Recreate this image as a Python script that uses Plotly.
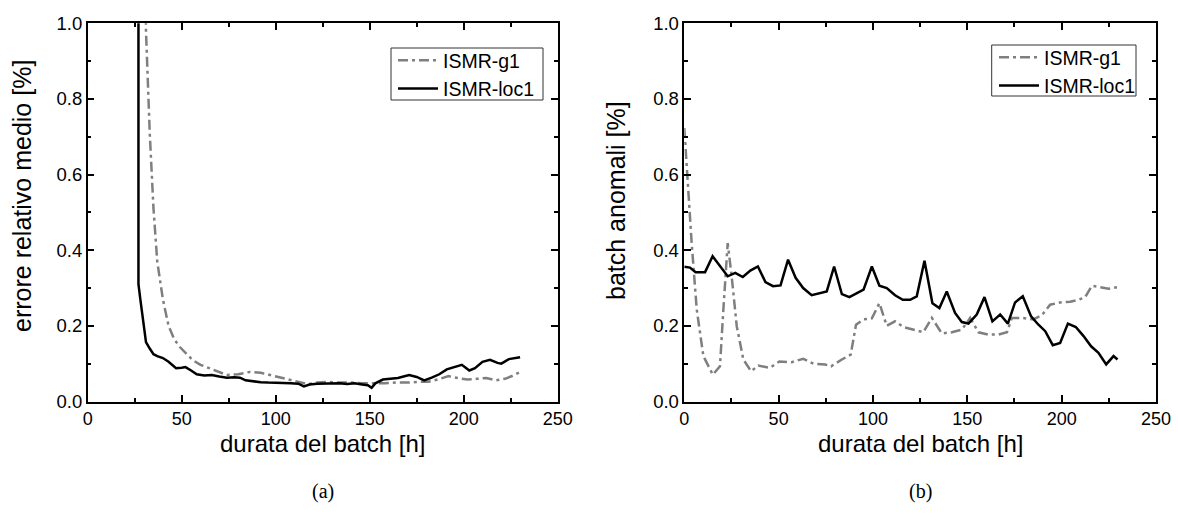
import plotly.graph_objects as go

# ---------------- data (a) : errore relativo medio ----------------
a_g1_x = [30, 31, 33, 35, 37, 40, 43, 46, 49, 53, 56, 60, 65, 70, 74, 80, 86, 92, 97,
          102, 107, 113, 117, 122, 128, 134, 140, 146, 152, 158, 164, 170, 176, 181,
          186, 192, 197, 202, 207, 212, 217, 222, 226, 230]
a_g1_y = [1.3, 0.98, 0.71, 0.51, 0.37, 0.27, 0.2, 0.165, 0.144, 0.125, 0.109, 0.097,
          0.088, 0.078, 0.07, 0.072, 0.078, 0.076, 0.07, 0.064, 0.058, 0.05, 0.046,
          0.05, 0.052, 0.05, 0.05, 0.048, 0.048, 0.048, 0.05, 0.05, 0.052, 0.052,
          0.058, 0.067, 0.062, 0.058, 0.06, 0.062, 0.056, 0.06, 0.068, 0.078]

a_loc1_x = [27, 27, 28, 30, 31, 33, 35, 37, 40, 43, 45, 47, 50, 52, 55, 58, 62, 66, 70,
            74, 78, 81, 84, 88, 92, 96, 100, 104, 108, 112, 115, 118, 122, 126, 130,
            134, 138, 142, 146, 149, 151, 153, 157, 161, 165, 168, 171, 175, 179, 183,
            187, 191, 195, 199, 203, 206, 210, 214, 218, 220, 224, 227, 230]
a_loc1_y = [1.3, 0.31, 0.27, 0.2, 0.157, 0.14, 0.125, 0.12, 0.115, 0.105, 0.097, 0.088,
            0.089, 0.091, 0.082, 0.072, 0.069, 0.07, 0.066, 0.063, 0.064, 0.063, 0.056,
            0.053, 0.051, 0.05, 0.05, 0.049, 0.048, 0.047, 0.04, 0.045, 0.047, 0.048,
            0.049, 0.048, 0.046, 0.048, 0.045, 0.043, 0.036, 0.048, 0.058, 0.06, 0.062,
            0.066, 0.07, 0.065, 0.056, 0.063, 0.072, 0.085, 0.09, 0.097, 0.082, 0.088,
            0.105, 0.11, 0.102, 0.1, 0.112, 0.115, 0.117]

# ---------------- data (b) : batch anomali ----------------
b_g1_x = [0, 1.6, 3.9, 6.6, 10.1, 15.1, 18.9, 20.7, 23, 25.1, 27.8, 31.3, 35.4, 39.2,
          45.4, 50.4, 56.9, 63.1, 68.4, 74.6, 77.8, 83.5, 88.2, 91, 94.9, 99.4, 103.4,
          107.3, 111.7, 116.1, 121.4, 126.7, 131.2, 136.5, 141.8, 147.1, 151.5, 155.9,
          161.2, 166.5, 171, 173.6, 178.9, 185, 189.5, 193.9, 199.2, 204.5, 208.9,
          212.5, 216, 220.4, 224.8, 229.3]
b_g1_y = [0.723, 0.595, 0.419, 0.243, 0.12, 0.071, 0.093, 0.243, 0.419, 0.331, 0.199,
          0.111, 0.08, 0.095, 0.089, 0.106, 0.104, 0.113, 0.1, 0.098, 0.093, 0.111,
          0.124, 0.203, 0.217, 0.22, 0.26, 0.2, 0.212, 0.197, 0.19, 0.183, 0.221, 0.18,
          0.183, 0.19, 0.221, 0.183, 0.177, 0.177, 0.183, 0.221, 0.221, 0.217, 0.228,
          0.256, 0.262, 0.264, 0.269, 0.276, 0.306, 0.303, 0.298, 0.302]

b_loc1_x = [0, 3, 6, 11, 15, 19, 23, 27, 31, 35, 39, 43, 47, 51, 55, 59, 63, 67.5, 71.5,
            75.5, 79.4, 83.5, 87.5, 91.5, 95, 99.4, 103.4, 107.3, 111.7, 115.8, 119.7,
            123.2, 127.3, 131.5, 135.2, 139.1, 143.5, 147.1, 150.6, 155, 159.1, 163.3,
            167.4, 171.5, 175.3, 179.4, 183.8, 187.7, 191.3, 195.3, 199.2, 203.3,
            207.5, 211.6, 215.6, 219.5, 223.6, 227.5, 229.6]
b_loc1_y = [0.356, 0.354, 0.342, 0.342, 0.384, 0.357, 0.331, 0.34, 0.329, 0.346, 0.357,
            0.316, 0.305, 0.307, 0.375, 0.327, 0.3, 0.281, 0.285, 0.291, 0.357, 0.284,
            0.276, 0.287, 0.296, 0.357, 0.306, 0.3, 0.281, 0.269, 0.269, 0.278, 0.372,
            0.26, 0.247, 0.291, 0.234, 0.21, 0.206, 0.23, 0.276, 0.212, 0.23, 0.206,
            0.262, 0.278, 0.225, 0.203, 0.186, 0.149, 0.155, 0.206, 0.197, 0.173,
            0.146, 0.129, 0.098, 0.12, 0.111]

series_names = ["ISMR-g1", "ISMR-loc1"]
x_title = "durata del batch [h]"
y_titles = ["errore relativo medio [%]", "batch anomali [%]"]
panel_labels = ["(a)", "(b)"]

W, H = 1178, 513
FONT = "Liberation Sans, Arial, sans-serif"
GRAY = "#7f7f7f"
DASH = "10px,4px,3px,4px"

fig = go.Figure()
fig.add_trace(go.Scatter(x=a_g1_x, y=a_g1_y, mode="lines", name=series_names[0],
                         line=dict(color=GRAY, width=2.5, dash=DASH),
                         xaxis="x", yaxis="y", legend="legend"))
fig.add_trace(go.Scatter(x=a_loc1_x, y=a_loc1_y, mode="lines", name=series_names[1],
                         line=dict(color="black", width=2.5),
                         xaxis="x", yaxis="y", legend="legend"))
fig.add_trace(go.Scatter(x=b_g1_x, y=b_g1_y, mode="lines", name=series_names[0],
                         line=dict(color=GRAY, width=2.5, dash=DASH),
                         xaxis="x2", yaxis="y2", legend="legend2"))
fig.add_trace(go.Scatter(x=b_loc1_x, y=b_loc1_y, mode="lines", name=series_names[1],
                         line=dict(color="black", width=2.5),
                         xaxis="x2", yaxis="y2", legend="legend2"))

ydom = [1 - 401.5 / H, 1 - 23.3 / H]
xdom1 = [87.7 / W, 557.7 / W]
xdom2 = [684.3 / W, 1156 / W]

def xax(dom, anchor):
    return dict(domain=dom, anchor=anchor, range=[0, 250], dtick=50, tick0=0,
                showgrid=False, zeroline=False, showline=True, linecolor="black",
                linewidth=1.5, mirror="allticks", ticks="inside", ticklen=7,
                tickwidth=1.5, tickcolor="black",
                minor=dict(ticks="inside", ticklen=4, dtick=25, tickwidth=1.5,
                           tickcolor="black", showgrid=False),
                tickfont=dict(family=FONT, size=18, color="black"),
                automargin=False, fixedrange=True)

def yax(anchor):
    return dict(domain=ydom, anchor=anchor, range=[0, 1.0], dtick=0.2, tick0=0,
                tickformat=".1f",
                showgrid=False, zeroline=False, showline=True, linecolor="black",
                linewidth=1.5, mirror="allticks", ticks="inside", ticklen=7,
                tickwidth=1.5, tickcolor="black",
                minor=dict(ticks="inside", ticklen=4, dtick=0.1, tickwidth=1.5,
                           tickcolor="black", showgrid=False),
                tickfont=dict(family=FONT, size=18.5, color="black"),
                automargin=False, fixedrange=True)

legend_common = dict(bgcolor="rgba(0,0,0,0)", borderwidth=0,
                     font=dict(family=FONT, size=19.5, color="black"),
                     xanchor="left", yanchor="top", tracegroupgap=0,
                     itemwidth=40)

fig.update_layout(
    width=W, height=H,
    margin=dict(l=0, r=0, t=0, b=0),
    paper_bgcolor="white", plot_bgcolor="white",
    xaxis=xax(xdom1, "y"), yaxis=yax("x"),
    xaxis2=xax(xdom2, "y2"), yaxis2=yax("x2"),
    legend=dict(x=393 / W, y=1 - 41 / H, **legend_common),
    legend2=dict(x=994 / W, y=1 - 38 / H, **legend_common),
    showlegend=True,
)

# legend frames
shapes = []
for (x0, y0, x1, y1) in [(391, 48, 543, 100), (991.7, 45, 1136, 96)]:
    shapes.append(dict(type="rect", xref="paper", yref="paper",
                       x0=x0 / W, x1=x1 / W, y0=1 - y1 / H, y1=1 - y0 / H,
                       line=dict(color="#333333", width=1), fillcolor="rgba(0,0,0,0)",
                       layer="above"))
fig.update_layout(shapes=shapes)

annotations = []
for i, dom in enumerate([xdom1, xdom2]):
    cx = (dom[0] + dom[1]) / 2
    annotations.append(dict(text=x_title, x=cx, y=1 - 443 / H, xref="paper", yref="paper",
                            showarrow=False, xanchor="center", yanchor="middle",
                            font=dict(family=FONT, size=24, color="black")))
    annotations.append(dict(text=panel_labels[i], x=cx, y=1 - 491 / H,
                            xref="paper", yref="paper", showarrow=False,
                            xanchor="center", yanchor="middle",
                            font=dict(family="Liberation Serif, Times New Roman, serif",
                                      size=20, color="black")))
annotations.append(dict(text=y_titles[0], x=22 / W, y=1 - 196 / H, xref="paper",
                        yref="paper", showarrow=False, textangle=-90,
                        xanchor="center", yanchor="middle",
                        font=dict(family=FONT, size=25, color="black")))
annotations.append(dict(text=y_titles[1], x=616 / W, y=1 - 201 / H, xref="paper",
                        yref="paper", showarrow=False, textangle=-90,
                        xanchor="center", yanchor="middle",
                        font=dict(family=FONT, size=25, color="black")))
fig.update_layout(annotations=annotations)

fig.write_html("out.html")
